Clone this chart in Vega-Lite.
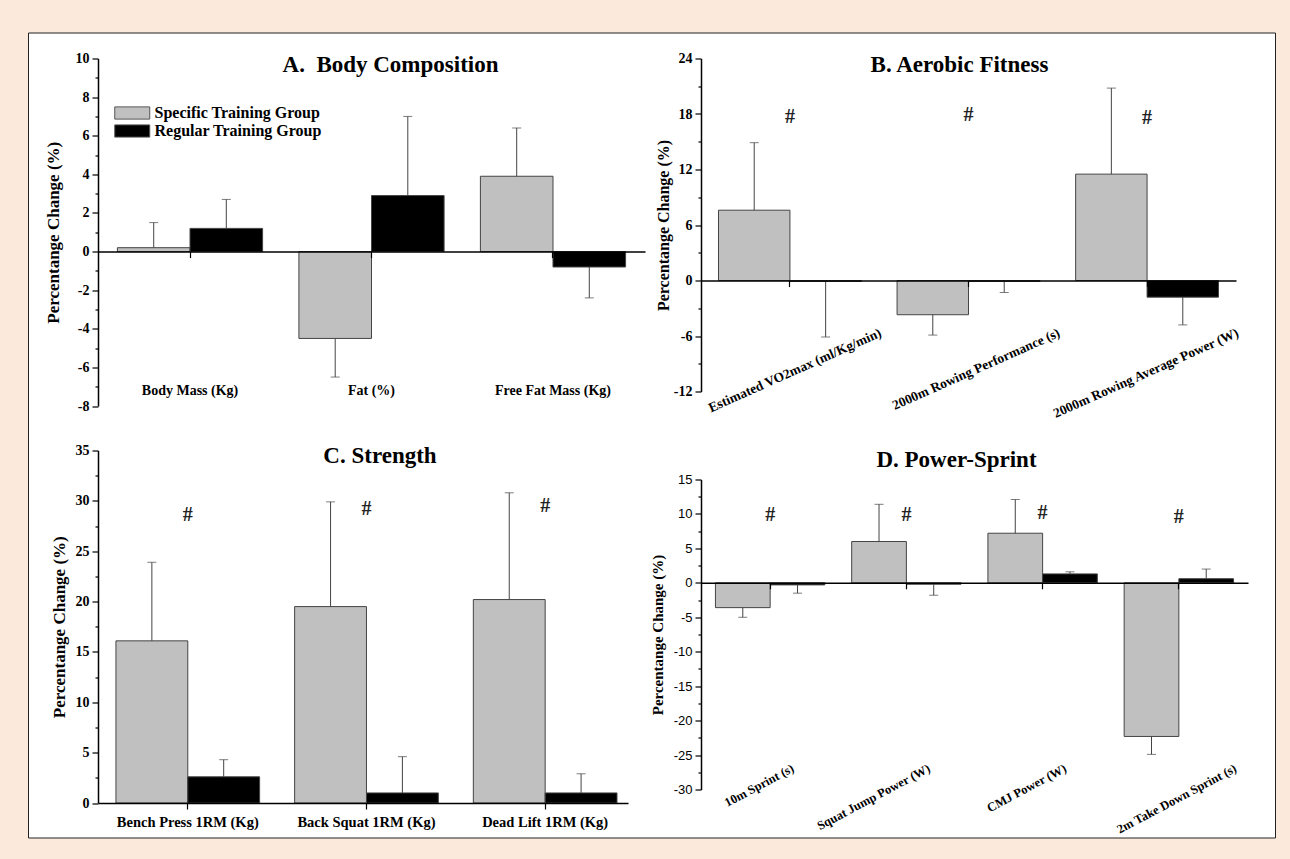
{
  "$schema": "https://vega.github.io/schema/vega-lite/v6.json",
  "background": "#fbe9dc",
  "padding": {"left": 25, "top": 31.5, "right": 14.5, "bottom": 20},
  "config": {
    "view": {"stroke": null},
    "axis": {"domainColor": "#000", "domainWidth": 1.5, "tickColor": "#000", "tickWidth": 1.2, "labelFont": "Liberation Serif", "labelFontWeight": "bold", "labelFontSize": 14, "labelColor": "#000", "titleFont": "Liberation Serif", "titleFontWeight": "bold", "titleFontSize": 17, "titleColor": "#000", "grid": false, "labelLimit": 400, "labelOverlap": false, "labelFlush": false},
    "title": {"font": "Liberation Serif", "fontWeight": "bold", "fontSize": 23, "color": "#000", "anchor": "middle", "frame": "group", "baseline": "alphabetic", "offset": 4}
  },
  "datasets": {
    "frame": [{"k": "frame"}],
    "A": [
      {"cat": "Body Mass (Kg)", "group": "Specific Training Group", "value": 0.2, "err": 1.5},
      {"cat": "Body Mass (Kg)", "group": "Regular Training Group", "value": 1.2, "err": 2.7},
      {"cat": "Fat (%)", "group": "Specific Training Group", "value": -4.5, "err": -6.5},
      {"cat": "Fat (%)", "group": "Regular Training Group", "value": 2.9, "err": 7.0},
      {"cat": "Free Fat Mass (Kg)", "group": "Specific Training Group", "value": 3.9, "err": 6.4},
      {"cat": "Free Fat Mass (Kg)", "group": "Regular Training Group", "value": -0.8, "err": -2.4}
    ],
    "B": [
      {"cat": "Estimated VO2max (ml/Kg/min)", "group": "Specific Training Group", "value": 7.6, "err": 14.9},
      {"cat": "Estimated VO2max (ml/Kg/min)", "group": "Regular Training Group", "value": -0.1, "err": -6.1},
      {"cat": "2000m Rowing Performance (s)", "group": "Specific Training Group", "value": -3.7, "err": -5.9},
      {"cat": "2000m Rowing Performance (s)", "group": "Regular Training Group", "value": -0.1, "err": -1.3},
      {"cat": "2000m Rowing Average Power (W)", "group": "Specific Training Group", "value": 11.5, "err": 20.8},
      {"cat": "2000m Rowing Average Power (W)", "group": "Regular Training Group", "value": -1.8, "err": -4.8}
    ],
    "Bh": [
      {"cat": "Estimated VO2max (ml/Kg/min)", "y": 17.7, "mark": "#"},
      {"cat": "2000m Rowing Performance (s)", "y": 17.9, "mark": "#"},
      {"cat": "2000m Rowing Average Power (W)", "y": 17.6, "mark": "#"}
    ],
    "C": [
      {"cat": "Bench Press 1RM (Kg)", "group": "Specific Training Group", "value": 16.1, "err": 23.9},
      {"cat": "Bench Press 1RM (Kg)", "group": "Regular Training Group", "value": 2.6, "err": 4.3},
      {"cat": "Back Squat 1RM (Kg)", "group": "Specific Training Group", "value": 19.5, "err": 29.9},
      {"cat": "Back Squat 1RM (Kg)", "group": "Regular Training Group", "value": 1.0, "err": 4.6},
      {"cat": "Dead Lift 1RM (Kg)", "group": "Specific Training Group", "value": 20.2, "err": 30.8},
      {"cat": "Dead Lift 1RM (Kg)", "group": "Regular Training Group", "value": 1.0, "err": 2.9}
    ],
    "Ch": [
      {"cat": "Bench Press 1RM (Kg)", "y": 28.6, "mark": "#"},
      {"cat": "Back Squat 1RM (Kg)", "y": 29.2, "mark": "#"},
      {"cat": "Dead Lift 1RM (Kg)", "y": 29.5, "mark": "#"}
    ],
    "D": [
      {"cat": "10m Sprint (s)", "group": "Specific Training Group", "value": -3.6, "err": -5.0},
      {"cat": "10m Sprint (s)", "group": "Regular Training Group", "value": -0.3, "err": -1.5},
      {"cat": "Squat Jump Power (W)", "group": "Specific Training Group", "value": 6.0, "err": 11.4},
      {"cat": "Squat Jump Power (W)", "group": "Regular Training Group", "value": -0.2, "err": -1.8},
      {"cat": "CMJ Power (W)", "group": "Specific Training Group", "value": 7.2, "err": 12.1},
      {"cat": "CMJ Power (W)", "group": "Regular Training Group", "value": 1.3, "err": 1.6},
      {"cat": "2m Take Down Sprint (s)", "group": "Specific Training Group", "value": -22.3, "err": -24.9},
      {"cat": "2m Take Down Sprint (s)", "group": "Regular Training Group", "value": 0.6, "err": 2.0}
    ],
    "Dh": [
      {"cat": "10m Sprint (s)", "y": 9.9, "mark": "#"},
      {"cat": "Squat Jump Power (W)", "y": 9.8, "mark": "#"},
      {"cat": "CMJ Power (W)", "y": 10.1, "mark": "#"},
      {"cat": "2m Take Down Sprint (s)", "y": 9.6, "mark": "#"}
    ]
  },
  "bounds": "flush",
  "spacing": 69,
  "resolve": {"scale": {"color": "independent", "xOffset": "independent"}, "legend": {"color": "independent"}},
  "hconcat": [
    {
      "width": 1, "height": 1,
      "data": {"name": "frame"},
      "mark": {"type": "point", "opacity": 0},
      "encoding": {
        "color": {"field": "k", "type": "nominal", "scale": {"range": ["#ffffff"]},
          "legend": {"orient": "none", "legendX": 0, "legendY": -26, "title": null, "padding": 0,
            "fillColor": "#ffffff", "strokeColor": "#222222", "zindex": 0,
            "symbolSize": 648025, "symbolOpacity": 0, "symbolStrokeWidth": 0,
            "labelExpr": "''", "labelOffset": 442, "labelFontSize": 1, "rowPadding": 0}}
      }
    },
    {
      "spacing": 5,
      "resolve": {"scale": {"color": "independent", "xOffset": "independent"}, "legend": {"color": "independent"}},
      "hconcat": [
        {
          "spacing": 44,
          "bounds": "flush",
          "resolve": {"scale": {"color": "independent", "xOffset": "independent"}, "legend": {"color": "independent"}},
          "vconcat": [
            {
              "width": 547, "height": 347.5,
              "title": {"text": "A.\u00a0 Body Composition", "dx": 19, "dy": 29.8},
              "data": {"name": "A"},
              "resolve": {"axis": {"y": "independent"}},
              "layer": [
                {
                  "mark": {"type": "bar", "stroke": "#444", "strokeWidth": 1},
                  "encoding": {
                    "x": {"field": "cat", "type": "nominal", "sort": null,
                      "scale": {"domain": ["Body Mass (Kg)", "Fat (%)", "Free Fat Mass (Kg)"], "paddingInner": 0.2, "paddingOuter": 0.107},
                      "axis": {"title": null, "orient": "bottom", "offset": -154.4, "labelAngle": 0, "labelPadding": 126, "tickSize": 6, "labelFontSize": 14, "zindex": 1}},
                    "xOffset": {"field": "group", "sort": ["Specific Training Group", "Regular Training Group"]},
                    "y": {"field": "value", "type": "quantitative", "stack": null,
                      "scale": {"domain": [-8, 10], "nice": false, "zero": false},
                      "axis": {"orient": "left", "title": "Percentange Change (%)", "values": [-8, -6, -4, -2, 0, 2, 4, 6, 8, 10],
                        "labelExpr": "'' + datum.value", "tickSize": 6,
                        "minExtent": 28, "maxExtent": 28, "titlePadding": 8, "labelPadding": 3}},
                    "color": {"field": "group", "type": "nominal",
                      "scale": {"domain": ["Specific Training Group", "Regular Training Group"], "range": ["#c0c0c0", "#000000"]},
                      "legend": {"orient": "none", "legendX": 16, "legendY": 45, "title": null, "padding": 0,
                        "symbolType": "M-1,-0.7H3V0.7H-1Z", "symbolSize": 306, "symbolStrokeColor": "#555", "symbolStrokeWidth": 1,
                        "labelFont": "Liberation Serif", "labelFontWeight": "bold", "labelFontSize": 16, "labelColor": "#000", "labelOffset": 21.5, "labelLimit": 400, "rowPadding": 0}}
                  }
                },
                {
                  "mark": {"type": "rule", "color": "#444", "strokeWidth": 1},
                  "encoding": {
                    "x": {"field": "cat", "type": "nominal", "sort": null},
                    "xOffset": {"field": "group", "sort": ["Specific Training Group", "Regular Training Group"]},
                    "y": {"field": "value", "type": "quantitative",
                      "axis": {"orient": "left", "title": null, "values": [-7, -5, -3, -1, 1, 3, 5, 7, 9], "labels": false, "domain": false, "tickSize": 3, "minExtent": 0, "maxExtent": 0}},
                    "y2": {"field": "err"}
                  }
                },
                {
                  "mark": {"type": "tick", "color": "#444", "thickness": 1, "size": 9},
                  "encoding": {
                    "x": {"field": "cat", "type": "nominal", "sort": null},
                    "xOffset": {"field": "group", "sort": ["Specific Training Group", "Regular Training Group"]},
                    "y": {"field": "err", "type": "quantitative", "axis": null}
                  }
                }
              ]
            },
            {
              "width": 530, "height": 352.5,
              "title": {"text": "C. Strength", "dx": 17, "dy": 28.3},
              "data": {"name": "C"},
              "resolve": {"axis": {"y": "independent"}},
              "layer": [
                {
                  "mark": {"type": "bar", "stroke": "#444", "strokeWidth": 1},
                  "encoding": {
                    "x": {"field": "cat", "type": "nominal", "sort": null,
                      "scale": {"domain": ["Bench Press 1RM (Kg)", "Back Squat 1RM (Kg)", "Dead Lift 1RM (Kg)"], "paddingInner": 0.196, "paddingOuter": 0.081, "align": 0.62},
                      "axis": {"title": null, "orient": "bottom", "labelAngle": 0, "labelPadding": 6, "tickSize": 6, "labelFontSize": 14.5, "zindex": 1}},
                    "xOffset": {"field": "group", "sort": ["Specific Training Group", "Regular Training Group"]},
                    "y": {"field": "value", "type": "quantitative", "stack": null,
                      "scale": {"domain": [0, 35], "nice": false},
                      "axis": {"orient": "left", "title": "Percentange Change (%)", "values": [0, 5, 10, 15, 20, 25, 30, 35],
                        "labelExpr": "'' + datum.value", "tickSize": 6,
                        "minExtent": 28, "maxExtent": 28, "titlePadding": 2, "labelPadding": 3}},
                    "color": {"field": "group", "type": "nominal",
                      "scale": {"domain": ["Specific Training Group", "Regular Training Group"], "range": ["#c0c0c0", "#000000"]},
                      "legend": null}
                  }
                },
                {
                  "mark": {"type": "rule", "color": "#444", "strokeWidth": 1},
                  "encoding": {
                    "x": {"field": "cat", "type": "nominal", "sort": null},
                    "xOffset": {"field": "group", "sort": ["Specific Training Group", "Regular Training Group"]},
                    "y": {"field": "value", "type": "quantitative",
                      "axis": {"orient": "left", "title": null, "values": [2.5, 7.5, 12.5, 17.5, 22.5, 27.5, 32.5], "labels": false, "domain": false, "tickSize": 3, "minExtent": 0, "maxExtent": 0}},
                    "y2": {"field": "err"}
                  }
                },
                {
                  "mark": {"type": "tick", "color": "#444", "thickness": 1, "size": 9},
                  "encoding": {
                    "x": {"field": "cat", "type": "nominal", "sort": null},
                    "xOffset": {"field": "group", "sort": ["Specific Training Group", "Regular Training Group"]},
                    "y": {"field": "err", "type": "quantitative", "axis": null}
                  }
                },
                {
                  "data": {"name": "Ch"},
                  "mark": {"type": "text", "font": "Liberation Serif", "fontWeight": "bold", "fontSize": 20, "baseline": "middle", "color": "#222"},
                  "encoding": {
                    "x": {"field": "cat", "type": "nominal", "sort": null},
                    "y": {"field": "y", "type": "quantitative", "axis": null},
                    "text": {"field": "mark"}
                  }
                }
              ]
            }
          ]
        },
        {
          "spacing": 88,
          "bounds": "flush",
          "resolve": {"scale": {"color": "independent", "xOffset": "independent"}, "legend": {"color": "independent"}},
          "vconcat": [
            {
              "width": 535, "height": 333,
              "title": {"text": "B. Aerobic Fitness", "dx": -9, "dy": 29.8},
              "data": {"name": "B"},
              "resolve": {"axis": {"y": "independent"}},
              "layer": [
                {
                  "mark": {"type": "bar", "stroke": "#444", "strokeWidth": 1},
                  "encoding": {
                    "x": {"field": "cat", "type": "nominal", "sort": null,
                      "scale": {"domain": ["Estimated VO2max (ml/Kg/min)", "2000m Rowing Performance (s)", "2000m Rowing Average Power (W)"], "paddingInner": 0.2, "paddingOuter": 0.098},
                      "axis": {"title": null, "orient": "bottom", "offset": -111, "labelAngle": -24, "labelAlign": "right", "labelBaseline": "top", "labelPadding": 39, "labelOffset": 88, "tickSize": 6, "labelFontSize": 13.5, "zindex": 1}},
                    "xOffset": {"field": "group", "sort": ["Specific Training Group", "Regular Training Group"]},
                    "y": {"field": "value", "type": "quantitative", "stack": null,
                      "scale": {"domain": [-12, 24], "nice": false, "zero": false},
                      "axis": {"orient": "left", "title": "Percentange Change (%)", "values": [-12, -6, 0, 6, 12, 18, 24],
                        "labelExpr": "'' + datum.value", "tickSize": 6,
                        "minExtent": 28, "maxExtent": 28, "titlePadding": 2, "labelPadding": 3, "titleFontSize": 16}},
                    "color": {"field": "group", "type": "nominal",
                      "scale": {"domain": ["Specific Training Group", "Regular Training Group"], "range": ["#c0c0c0", "#000000"]},
                      "legend": null}
                  }
                },
                {
                  "mark": {"type": "rule", "color": "#444", "strokeWidth": 1},
                  "encoding": {
                    "x": {"field": "cat", "type": "nominal", "sort": null},
                    "xOffset": {"field": "group", "sort": ["Specific Training Group", "Regular Training Group"]},
                    "y": {"field": "value", "type": "quantitative",
                      "axis": {"orient": "left", "title": null, "values": [-9, -3, 3, 9, 15, 21], "labels": false, "domain": false, "tickSize": 3, "minExtent": 0, "maxExtent": 0}},
                    "y2": {"field": "err"}
                  }
                },
                {
                  "mark": {"type": "tick", "color": "#444", "thickness": 1, "size": 9},
                  "encoding": {
                    "x": {"field": "cat", "type": "nominal", "sort": null},
                    "xOffset": {"field": "group", "sort": ["Specific Training Group", "Regular Training Group"]},
                    "y": {"field": "err", "type": "quantitative", "axis": null}
                  }
                },
                {
                  "data": {"name": "Bh"},
                  "mark": {"type": "text", "font": "Liberation Serif", "fontWeight": "bold", "fontSize": 20, "baseline": "middle", "color": "#222"},
                  "encoding": {
                    "x": {"field": "cat", "type": "nominal", "sort": null},
                    "y": {"field": "y", "type": "quantitative", "axis": null},
                    "text": {"field": "mark"}
                  }
                }
              ]
            },
            {
              "width": 547, "height": 310,
              "title": {"text": "D. Power-Sprint", "dx": -18, "dy": 2.8},
              "data": {"name": "D"},
              "resolve": {"axis": {"y": "independent"}},
              "layer": [
                {
                  "mark": {"type": "bar", "stroke": "#444", "strokeWidth": 1},
                  "encoding": {
                    "x": {"field": "cat", "type": "nominal", "sort": null,
                      "scale": {"domain": ["10m Sprint (s)", "Squat Jump Power (W)", "CMJ Power (W)", "2m Take Down Sprint (s)"], "paddingInner": 0.197, "paddingOuter": 0.106},
                      "axis": {"title": null, "orient": "bottom", "offset": -206.7, "labelAngle": -28, "labelAlign": "right", "labelBaseline": "top", "labelPadding": 173,
                        "labelOffset": {"condition": {"test": "datum.value === '2m Take Down Sprint (s)'", "value": 54}, "value": 20},
                        "tickSize": 6, "labelFontSize": 12.5, "zindex": 1}},
                    "xOffset": {"field": "group", "sort": ["Specific Training Group", "Regular Training Group"]},
                    "y": {"field": "value", "type": "quantitative", "stack": null,
                      "scale": {"domain": [-30, 15], "nice": false, "zero": false},
                      "axis": {"orient": "left", "title": "Percentange Change (%)", "values": [-30, -25, -20, -15, -10, -5, 0, 5, 10, 15],
                        "labelExpr": "'' + datum.value", "tickSize": 6,
                        "labelFont": "Liberation Sans", "labelFontWeight": "normal", "labelFontSize": 13,
                        "minExtent": 28, "maxExtent": 28, "titlePadding": 8, "labelPadding": 3, "titleFontSize": 15}},
                    "color": {"field": "group", "type": "nominal",
                      "scale": {"domain": ["Specific Training Group", "Regular Training Group"], "range": ["#c0c0c0", "#000000"]},
                      "legend": null}
                  }
                },
                {
                  "mark": {"type": "rule", "color": "#444", "strokeWidth": 1},
                  "encoding": {
                    "x": {"field": "cat", "type": "nominal", "sort": null},
                    "xOffset": {"field": "group", "sort": ["Specific Training Group", "Regular Training Group"]},
                    "y": {"field": "value", "type": "quantitative",
                      "axis": {"orient": "left", "title": null, "values": [-27.5, -22.5, -17.5, -12.5, -7.5, -2.5, 2.5, 7.5, 12.5], "labels": false, "domain": false, "tickSize": 3, "minExtent": 0, "maxExtent": 0}},
                    "y2": {"field": "err"}
                  }
                },
                {
                  "mark": {"type": "tick", "color": "#444", "thickness": 1, "size": 9},
                  "encoding": {
                    "x": {"field": "cat", "type": "nominal", "sort": null},
                    "xOffset": {"field": "group", "sort": ["Specific Training Group", "Regular Training Group"]},
                    "y": {"field": "err", "type": "quantitative", "axis": null}
                  }
                },
                {
                  "data": {"name": "Dh"},
                  "mark": {"type": "text", "font": "Liberation Serif", "fontWeight": "bold", "fontSize": 20, "baseline": "middle", "color": "#222"},
                  "encoding": {
                    "x": {"field": "cat", "type": "nominal", "sort": null},
                    "y": {"field": "y", "type": "quantitative", "axis": null},
                    "text": {"field": "mark"}
                  }
                }
              ]
            }
          ]
        }
      ]
    }
  ]
}
